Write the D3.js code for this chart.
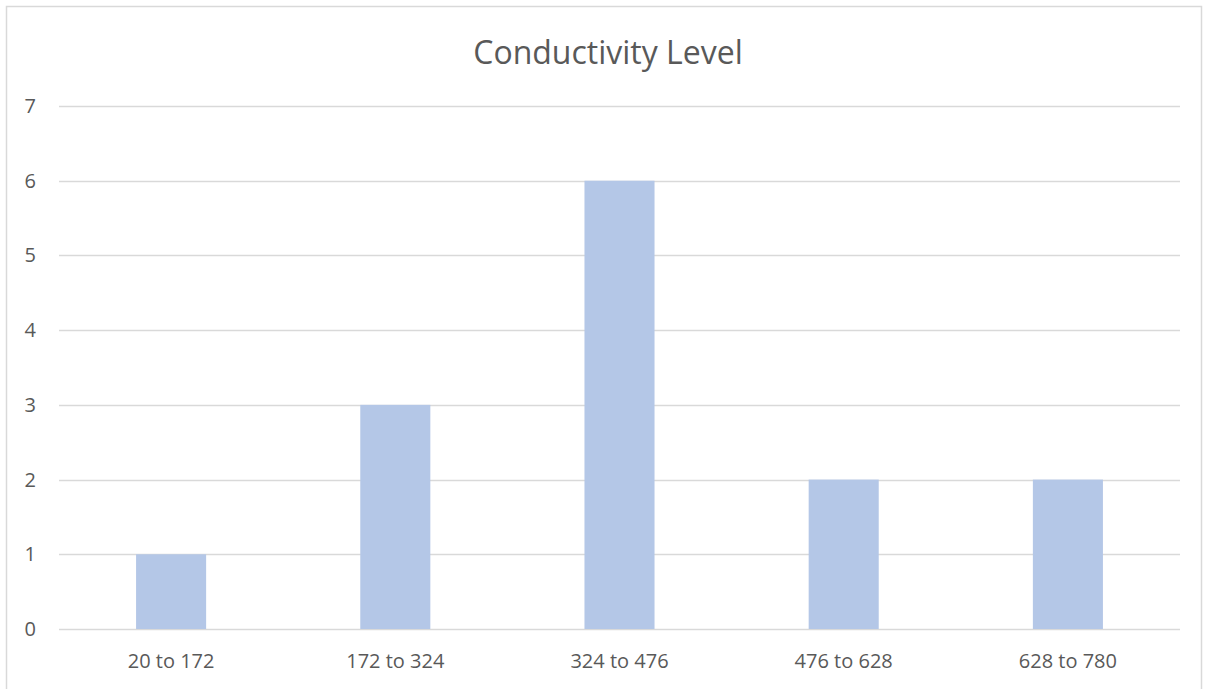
<!DOCTYPE html>
<html><head><meta charset="utf-8">
<script src="https://cdn.jsdelivr.net/npm/d3@7"></script>
<style>body{margin:0;background:#fff}svg{display:block}</style>
</head><body>
<script>
const categories = ["20 to 172","172 to 324","324 to 476","476 to 628","628 to 780"];
const counts = [1,3,6,2,2];
const yTicks = [0,1,2,3,4,5,6,7];
const title = "Conductivity Level";

const W = 1209, H = 689;
const m = {left:59, right:1180, top:106, bottom:629};
const svg = d3.select("body").append("svg").attr("width",W).attr("height",H);
svg.append("rect").attr("x",6.5).attr("y",6.5).attr("width",1195).attr("height",690)
  .attr("fill","#fff").attr("stroke","#d9d9d9").attr("stroke-width",1.5);

const x = d3.scaleBand().domain(categories).range([m.left,m.right]).paddingInner(0.6875).paddingOuter(0.34375);
const y = d3.scaleLinear().domain([0,7]).range([m.bottom,m.top]);

const font = "'Open Sans', sans-serif";
svg.append("g").selectAll("line").data(yTicks).join("line")
  .attr("x1",m.left).attr("x2",m.right)
  .attr("y1",d=>Math.round(y(d))+0.5).attr("y2",d=>Math.round(y(d))+0.5)
  .attr("stroke","#d9d9d9").attr("stroke-width",1.5);

svg.append("g").selectAll("rect").data(categories).join("rect")
  .attr("x",d=>x(d)).attr("width",x.bandwidth())
  .attr("y",(d,i)=>y(counts[i])).attr("height",(d,i)=>y(0)-y(counts[i]))
  .attr("fill","#b4c7e7");

svg.append("g").selectAll("text").data(yTicks).join("text")
  .attr("x",36).attr("y",d=>y(d)).attr("dy","0.35em").attr("text-anchor","end")
  .attr("font-family",font).attr("font-size",20).attr("fill","#595959").text(d=>d);

svg.append("g").selectAll("text").data(categories).join("text")
  .attr("x",d=>x(d)+x.bandwidth()/2).attr("y",668).attr("text-anchor","middle")
  .attr("font-family",font).attr("font-size",20).attr("fill","#595959").text(d=>d);

svg.append("text").attr("x",608).attr("y",64).attr("text-anchor","middle")
  .attr("font-family",font).attr("font-size",32).attr("fill","#595959").text(title);
</script>
</body></html>
